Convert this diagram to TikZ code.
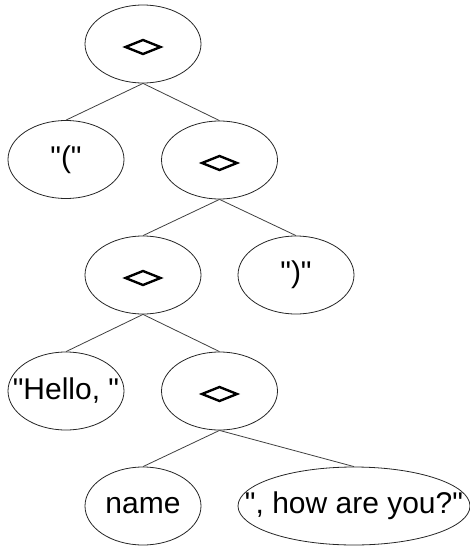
\documentclass[tikz,border=0pt]{standalone}
\usepackage{fontspec}
\setmainfont{Liberation Sans}[Ligatures=TeXOff]
\usetikzlibrary{shapes.geometric}

\tikzset{
  term/.style={ellipse,draw=black!85,line width=0.8pt,inner sep=0pt,
    minimum width=116pt,minimum height=78pt,
    font=\fontsize{30}{36}\selectfont},
  wide/.style={term,minimum width=232pt},
  branch/.style={draw=black!75,line width=0.8pt},
  opmark/.style={draw=black,line width=2.4pt,line join=miter}
}

\newcommand{\lbl}[1]{\makebox[0pt]{#1}}
% the <> operator, drawn as a flat diamond inside the named node
\newcommand{\opdiamond}[1]{\draw[opmark] ([yshift=-3pt]#1.center)
  +(-17.5,0) -- +(0,-7) -- +(17.5,0) -- +(0,7) -- cycle;}

\begin{document}
\begin{tikzpicture}[x=1pt,y=-1pt]
  \useasboundingbox (0,0) rectangle (470,546);

  \node[term] (root) at (143,44)    {};
  \node[term] (lpar) at (66,159.5)  {\lbl{"("}};
  \node[term] (app1) at (219.5,160) {};
  \node[term] (app2) at (143,275)   {};
  \node[term] (rpar) at (296,275)   {\lbl{")"}};
  \node[term] (hello) at (66,391)   {\lbl{"Hello, "}};
  \node[term] (app3) at (219.5,391) {};
  \node[term] (name) at (143,506)   {\lbl{name}};
  \node[wide] (howr) at (354,506)   {\lbl{", how are you?"}};

  \opdiamond{root}
  \opdiamond{app1}
  \opdiamond{app2}
  \opdiamond{app3}

  \draw[branch] (root.south) -- (lpar.north);
  \draw[branch] (root.south) -- (app1.north);
  \draw[branch] (app1.south) -- (app2.north);
  \draw[branch] (app1.south) -- (rpar.north);
  \draw[branch] (app2.south) -- (hello.north);
  \draw[branch] (app2.south) -- (app3.north);
  \draw[branch] (app3.south) -- (name.north);
  \draw[branch] (app3.south) -- (howr.north);
\end{tikzpicture}
\end{document}
